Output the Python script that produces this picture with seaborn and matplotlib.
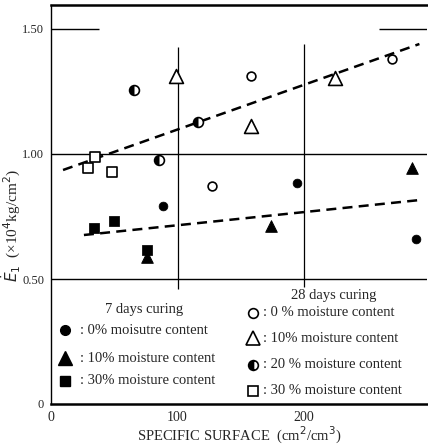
import matplotlib
matplotlib.use("Agg")
import matplotlib.pyplot as plt
from matplotlib.markers import MarkerStyle
import seaborn as sns
import pandas as pd

# ---- data ----
# 7 days curing
d7_0_x = [88.5, 194.5, 288.5]
d7_0_y = [0.79, 0.884, 0.66]
d7_10_x = [75.9, 174.0, 285.0]
d7_10_y = [0.59, 0.712, 0.944]
d7_30_x = [34.0, 49.8, 75.9]
d7_30_y = [0.704, 0.732, 0.616]
# 28 days curing
d28_0_x = [127.0, 158.0, 269.0]
d28_0_y = [0.873, 1.312, 1.38]
d28_10_x = [98.6, 158.0, 224.0]
d28_10_y = [1.312, 1.112, 1.304]
d28_20_x = [65.6, 85.4, 116.0]
d28_20_y = [1.256, 0.976, 1.128]
d28_30_x = [34.8, 29.6, 48.0]
d28_30_y = [0.988, 0.944, 0.929]
# dashed trend lines
trend28_x = [9.5, 291.0]
trend28_y = [0.936, 1.44]
trend7_x = [26.0, 291.5]
trend7_y = [0.676, 0.816]

x_ticks = [0, 100, 200]
x_tick_labels = ["0", "100", "200"]
y_ticks = [0, 0.5, 1.0, 1.5]
y_tick_labels = ["0", "0.50", "1.00", "1.50"]

title7 = "7 days curing"
labels7 = [": 0% moisutre content", ": 10% moisture content", ": 30% moisture content"]
title28 = "28 days curing"
labels28 = [": 0 % moisture content", ": 10% moisture content",
            ": 20 % moisture content", ": 30 % moisture content"]

sns.set_style("white")
plt.rcParams["font.family"] = ["Liberation Serif", "DejaVu Serif"]

W, H = 428, 446
fig = plt.figure(figsize=(W / 100, H / 100), dpi=100)
AX_L, AX_B, AX_W, AX_H = 51, 42, 376, 399
ax = fig.add_axes([AX_L / W, AX_B / H, AX_W / W, AX_H / H])

def df(x, y):
    return pd.DataFrame({"x": x, "y": y})

S_C = 40
S_T = 70
S_S = 45
k = dict(ax=ax, legend=False, zorder=4)
sns.scatterplot(data=df(d7_0_x, d7_0_y), x="x", y="y", marker="o", s=S_C, color="black", edgecolor="black", **k)
sns.scatterplot(data=df(d7_10_x, d7_10_y), x="x", y="y", marker="^", s=S_T, color="black", edgecolor="black", **k)
sns.scatterplot(data=df(d7_30_x, d7_30_y), x="x", y="y", marker="s", s=S_S, color="black", edgecolor="black", **k)
sns.scatterplot(data=df(d28_0_x, d28_0_y), x="x", y="y", marker="o", s=S_C, facecolor="white", edgecolor="black", linewidth=1.2, **k)
sns.scatterplot(data=df(d28_10_x, d28_10_y), x="x", y="y", marker="^", s=S_T + 30, facecolor="white", edgecolor="black", linewidth=1.2, **k)
sns.scatterplot(data=df(d28_20_x, d28_20_y), x="x", y="y", marker="o", s=S_C + 10, facecolor="white", edgecolor="black", linewidth=1.2, **k)
sns.scatterplot(data=df(d28_20_x, d28_20_y), x="x", y="y", marker=MarkerStyle("o", fillstyle="left"), s=S_C + 10, color="black", linewidth=0, **k)
sns.scatterplot(data=df(d28_30_x, d28_30_y), x="x", y="y", marker="s", s=S_S + 10, facecolor="white", edgecolor="black", linewidth=1.2, **k)

sns.lineplot(x=trend28_x, y=trend28_y, ax=ax, color="black", linestyle=(0, (4, 2.5)), linewidth=1.8, zorder=3)
sns.lineplot(x=trend7_x, y=trend7_y, ax=ax, color="black", linestyle=(0, (4, 2.5)), linewidth=1.8, zorder=3)

# reference lines
ax.axhline(1.0, color="black", lw=1.0, zorder=2)
ax.axhline(0.5, color="black", lw=1.0, zorder=2)
ax.hlines(1.5, 0, 38, color="black", lw=1.0)
ax.hlines(1.5, 259, 300, color="black", lw=1.0)
ax.vlines(100, 0.46, 1.43, color="black", lw=0.9)
ax.vlines(200, 0.47, 1.44, color="black", lw=0.9)

ax.set_xlim(0, 297)
ax.set_ylim(0, 1.596)
ax.set_xticks(x_ticks)
ax.set_xticklabels(x_tick_labels, fontsize=10)
ax.set_yticks(y_ticks)
ax.set_yticklabels(y_tick_labels, fontsize=9)
ax.tick_params(axis="both", direction="inout", length=4, width=0.8, color="black", pad=3)
for side in ["left", "bottom", "top"]:
    ax.spines[side].set_color("black")
ax.spines["left"].set_linewidth(1.0)
ax.spines["bottom"].set_linewidth(1.8)
ax.spines["top"].set_linewidth(1.8)
ax.spines["right"].set_visible(False)

ax.set_xlabel("SPECIFIC SURFACE  (cm$^2$/cm$^3$)", fontsize=10.5)
ax.xaxis.set_label_coords(0.5, -(425 - 404) / AX_H)
ax.set_ylabel("$\\dot{E}_1$  (\u00d710$^4$kg/cm$^2$)", fontsize=11)
ax.yaxis.set_label_coords(-(51 - 23) / AX_W, (404 - 225) / AX_H)

# manual legends (positions in pixels of the figure, converted to axes fraction)
def axf(px, py):
    return ((px - AX_L) / AX_W, (404 - py) / AX_H)

tr = ax.transAxes
ax.text(*axf(144, 310), title7, transform=tr, ha="center", va="center", fontsize=10.5)
leg7 = [("o", 7, 330), ("^", 10, 358), ("s", 7, 381)]
for (m, ms, py), lab in zip(leg7, labels7):
    ax.plot(*axf(65, py), marker=m, ms=ms, color="black", ls="", transform=tr, clip_on=False)
    ax.text(*axf(80, py), lab, transform=tr, ha="left", va="center", fontsize=10.5)

ax.text(*axf(334, 296), title28, transform=tr, ha="center", va="center", fontsize=10.5)
leg28 = [("o", 7, 313, "none"), ("^", 10, 338, "none"), ("o", 7, 365, "left"), ("s", 7, 391, "none")]
for (m, ms, py, fs), lab in zip(leg28, labels28):
    if fs == "left":
        ax.plot(*axf(253, py), marker=m, ms=ms, ls="", mfc="black", mfcalt="white",
                fillstyle="left", mec="black", mew=1.2, transform=tr, clip_on=False)
    else:
        ax.plot(*axf(253, py), marker=m, ms=ms, ls="", mfc="white", mec="black",
                mew=1.2, transform=tr, clip_on=False)
    ax.text(*axf(263, py), lab, transform=tr, ha="left", va="center", fontsize=10.5)

fig.savefig("out.png", dpi=100)
